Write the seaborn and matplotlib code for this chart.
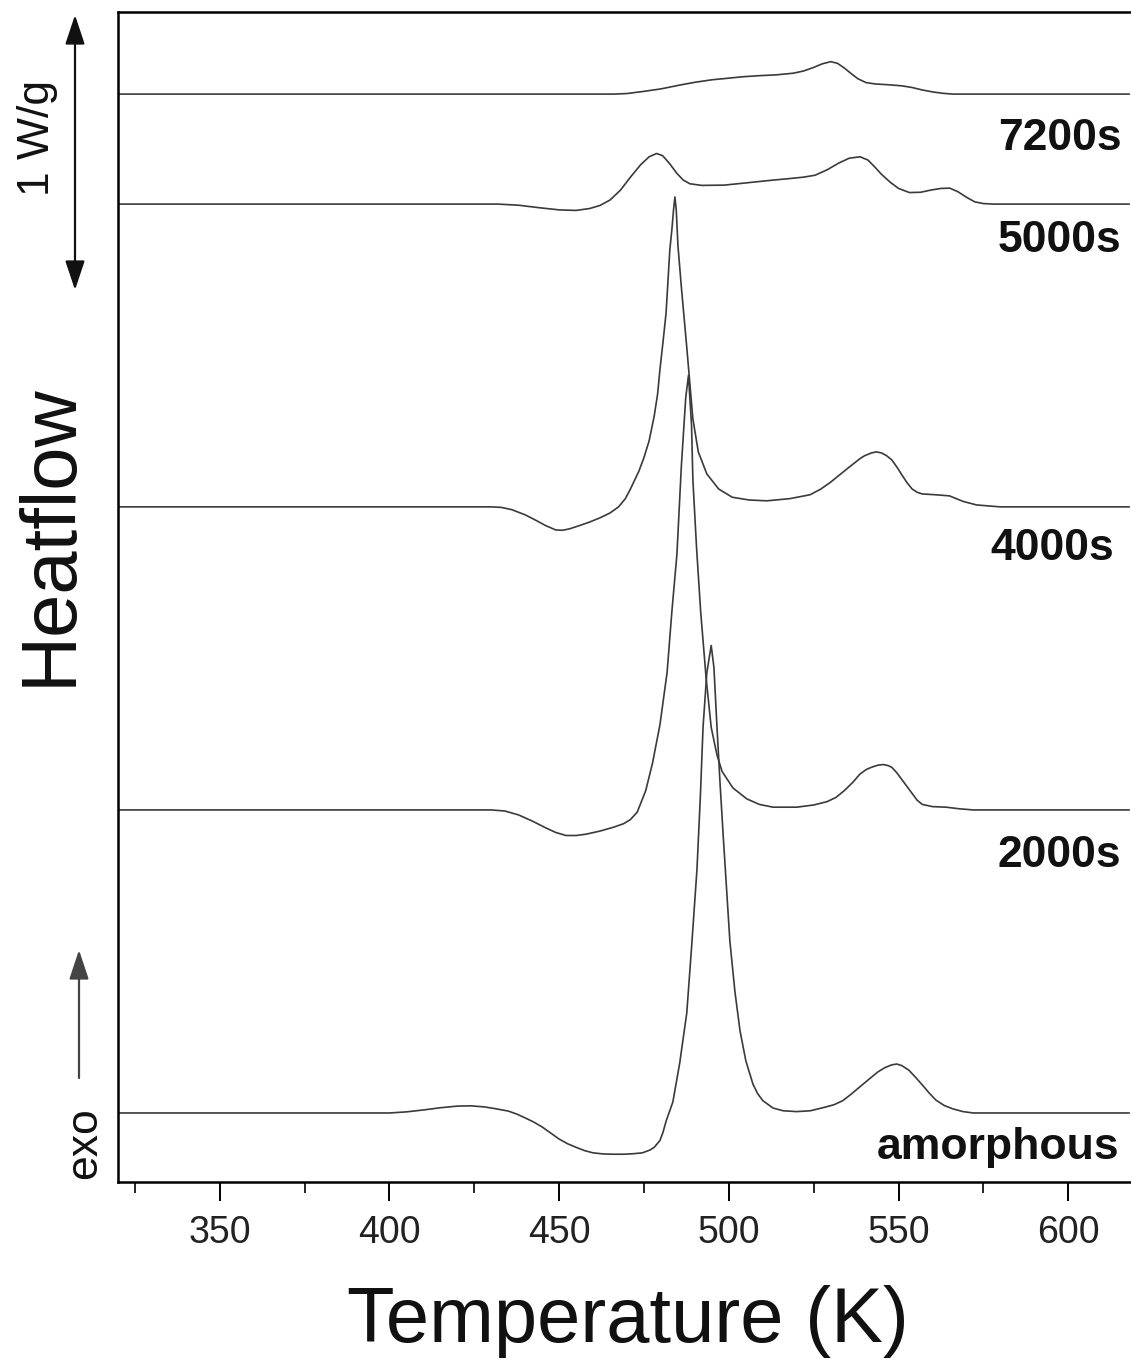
import numpy as np
import pandas as pd
import matplotlib
matplotlib.use("Agg")
import matplotlib.pyplot as plt
import matplotlib.transforms as mtransforms
import seaborn as sns

# ---------------- data ----------------
series_names = ["amorphous", "2000s", "4000s", "5000s", "7200s"]
baseline_offsets = [0.251, 1.353, 2.455, 3.556, 3.956]   # W/g, vertical stacking

amorphous_T = [320, 400, 405, 410, 415, 420, 424, 428, 431, 435, 437.5, 440, 442.5, 445, 447.5,
               450, 452.5, 455, 457.5, 460, 463, 466, 469, 472, 474.5, 476.7, 478, 479.7, 480.6,
               481.5, 483.5, 485.5, 487.6, 489, 490.6, 491.6, 492.4, 493.5, 494.8, 495.6, 496.5,
               497.4, 498.3, 499.3, 500.3, 501.8, 503.3, 505, 507.1, 508.5, 510, 513, 516, 520,
               524, 528, 531, 533.6, 536, 538.6, 542, 544, 546, 548, 549.5, 551, 553, 555, 557,
               559, 561, 563.5, 566, 569, 572, 618]
amorphous_hf = [0, 0, 0.004, 0.011, 0.019, 0.025, 0.026, 0.022, 0.016, 0.007, -0.004, -0.018,
                -0.033, -0.051, -0.073, -0.095, -0.112, -0.125, -0.137, -0.145, -0.149, -0.15,
                -0.15, -0.148, -0.145, -0.135, -0.125, -0.1, -0.07, -0.03, 0.04, 0.18, 0.364,
                0.6, 0.885, 1.15, 1.404, 1.6, 1.70, 1.62, 1.404, 1.2, 1.015, 0.82, 0.625, 0.44,
                0.298, 0.19, 0.105, 0.07, 0.045, 0.018, 0.008, 0.005, 0.008, 0.02, 0.03, 0.045,
                0.068, 0.095, 0.13, 0.15, 0.165, 0.175, 0.178, 0.172, 0.156, 0.13, 0.102, 0.073,
                0.047, 0.027, 0.015, 0.005, 0, 0]

s2000_T = [320, 430, 434, 438, 442, 446, 449, 452, 455, 458, 462, 466, 469, 471, 473, 475.5,
           477.5, 479.7, 481.8, 483.2, 484.7, 486, 487.3, 488.1, 489, 489.4, 490.5, 491.7, 493.3,
           494.8, 496.5, 498, 501.2, 505.3, 509, 513, 520, 525, 528.9, 531.5, 534, 536.5, 538.6,
           540.5, 542, 544, 545.5, 547, 548, 549.5, 551, 552.5, 554, 555.5, 557, 560, 564, 568,
           572, 618]
s2000_hf = [0, 0, -0.004, -0.018, -0.04, -0.065, -0.082, -0.093, -0.093, -0.088, -0.077, -0.063,
            -0.05, -0.035, -0.008, 0.07, 0.17, 0.31, 0.5, 0.72, 0.93, 1.25, 1.5, 1.58, 1.4, 1.2,
            0.95, 0.72, 0.48, 0.3, 0.2, 0.14, 0.08, 0.04, 0.02, 0.01, 0.01, 0.018, 0.03, 0.045,
            0.07, 0.1, 0.13, 0.147, 0.155, 0.163, 0.165, 0.161, 0.155, 0.135, 0.11, 0.085, 0.06,
            0.035, 0.02, 0.012, 0.01, 0.004, 0, 0]

s4000_T = [320, 430, 433, 436, 440, 443, 446, 449, 451, 453, 456, 459, 462, 465, 467.5, 469.5,
           471, 473.5, 475, 476.5, 478, 479, 479.7, 480.6, 481.5, 482.6, 483.2, 483.7, 484.1,
           484.5, 485, 486, 487.6, 489.4, 491, 493.5, 497, 501, 506, 511.2, 518, 523.9, 527, 530,
           535, 538.6, 540, 542, 543.5, 545, 546.5, 548, 549.5, 551, 552.5, 554, 555.5, 557, 561,
           565, 569, 573, 580, 618]
s4000_hf = [0, 0, -0.002, -0.01, -0.029, -0.048, -0.068, -0.084, -0.085, -0.08, -0.068, -0.055,
            -0.04, -0.022, 0, 0.03, 0.065, 0.13, 0.18, 0.24, 0.33, 0.41, 0.5, 0.6, 0.705, 0.934,
            1.007, 1.08, 1.127, 1.08, 0.95, 0.8, 0.58, 0.32, 0.2, 0.12, 0.065, 0.035, 0.025,
            0.022, 0.03, 0.044, 0.064, 0.09, 0.14, 0.175, 0.186, 0.196, 0.2, 0.196, 0.186, 0.171,
            0.145, 0.116, 0.088, 0.065, 0.053, 0.047, 0.044, 0.04, 0.02, 0.007, 0, 0]

s5000_T = [320, 432, 438, 444, 450, 455, 459, 462, 465, 468, 471, 474, 476.5, 478.7, 480.5,
           482.5, 484.6, 486.5, 488.5, 492, 498.6, 505, 512, 518, 522, 525.4, 529, 532.5, 535.5,
           538.7, 541, 543, 545, 547.5, 550, 553.2, 556.5, 559.5, 562.5, 565.1, 567.5, 570,
           572.5, 575, 578, 618]
s5000_hf = [0, 0, -0.004, -0.013, -0.021, -0.023, -0.016, -0.005, 0.015, 0.05, 0.098, 0.143,
            0.172, 0.184, 0.176, 0.148, 0.113, 0.088, 0.074, 0.068, 0.069, 0.077, 0.086, 0.093,
            0.098, 0.105, 0.125, 0.15, 0.167, 0.172, 0.16, 0.135, 0.108, 0.08, 0.057, 0.042,
            0.043, 0.051, 0.057, 0.058, 0.045, 0.025, 0.008, 0.002, 0, 0]

s7200_T = [320, 466, 470, 475, 480, 485.6, 490, 495, 500, 504, 509, 514, 519, 522, 525, 527.5,
           530, 532, 534, 536, 538, 540.4, 543, 547, 551, 554, 557, 560, 563, 566, 618]
s7200_hf = [0, 0, 0.002, 0.01, 0.019, 0.033, 0.043, 0.052, 0.058, 0.063, 0.067, 0.07, 0.076,
            0.084, 0.097, 0.11, 0.118, 0.112, 0.095, 0.075, 0.056, 0.042, 0.037, 0.034, 0.03,
            0.024, 0.015, 0.008, 0.003, 0, 0]

x_ticks = [350, 400, 450, 500, 550, 600]
x_minor_ticks = [325, 375, 425, 475, 525, 575]

# ---------------- build long table ----------------
temps = [amorphous_T, s2000_T, s4000_T, s5000_T, s7200_T]
flows = [amorphous_hf, s2000_hf, s4000_hf, s5000_hf, s7200_hf]
frames = []
for name, T, hf, off in zip(series_names, temps, flows, baseline_offsets):
    frames.append(pd.DataFrame({"T": T, "y": np.asarray(hf) + off, "sample": name}))
df = pd.concat(frames, ignore_index=True)

# ---------------- styling ----------------
sns.set_style("ticks")
plt.rcParams["font.family"] = ["Liberation Sans", "DejaVu Sans"]

W, H = 1131, 1372
fig = plt.figure(figsize=(W / 100, H / 100), dpi=100)
ax_left, ax_right, ax_top, ax_bottom = 118, 1131, 12, 1182
ax = fig.add_axes([ax_left / W, 1 - ax_bottom / H, (ax_right - ax_left) / W, (ax_bottom - ax_top) / H])

sns.lineplot(data=df, x="T", y="y", units="sample", estimator=None, sort=False,
             color="#3a3a3a", linewidth=1.2, ax=ax)
for ln in ax.get_lines():
    ln.set_solid_joinstyle("round")

ax.set_xlim(320, 618.5)
ax.set_ylim(0, (ax_bottom - ax_top) / 275.0)

ax.spines["right"].set_visible(False)
for s in ["left", "bottom", "top"]:
    ax.spines[s].set_linewidth(1.8)
    ax.spines[s].set_color("black")

ax.set_xticks(x_ticks)
ax.set_xticks(x_minor_ticks, minor=True)
ax.set_yticks([])
ax.tick_params(axis="x", which="major", direction="out", length=14, width=1.4,
               labelsize=27, pad=10, colors="black", top=False)
ax.tick_params(axis="x", which="minor", direction="out", length=8, width=1.4, top=False)
ax.tick_params(axis="y", left=False, right=False)
for lbl in ax.get_xticklabels():
    lbl.set_color("#222222")

ax.set_xlabel("Temperature (K)", fontsize=56, color="#111111")
ax.xaxis.label.set_va("center")
ax.xaxis.set_label_coords(0.503, -(1322 - ax_bottom) / (ax_bottom - ax_top))
ax.set_ylabel("Heatflow", fontsize=56, color="#111111")
ax.yaxis.label.set_va("center")
ax.yaxis.set_label_coords((50 - ax_left) / (ax_right - ax_left), (ax_bottom - 535) / (ax_bottom - ax_top))

# curve labels
label_y = [0.124, 1.189, 2.305, 3.425, 3.796]
label_x = [615.0, 615.7, 613.6, 615.7, 615.7]
for name, lx, ly in zip(series_names, label_x, label_y):
    ax.text(lx, ly, name, ha="right", va="center", fontsize=32, fontweight="bold", color="#111111")

blend = mtransforms.blended_transform_factory(ax.transAxes, ax.transData)

# 1 W/g scale arrow
xa = (75 - ax_left) / (ax_right - ax_left)
ax.annotate("", xy=(xa, (ax_bottom - 15) / 275.0), xytext=(xa, (ax_bottom - 290) / 275.0),
            xycoords=("axes fraction", "data"), textcoords=("axes fraction", "data"),
            arrowprops=dict(arrowstyle="<|-|>,head_length=0.6,head_width=0.2", mutation_scale=30,
                            color="#111111", lw=1.6, shrinkA=0, shrinkB=0),
            annotation_clip=False)
ax.text((38 - ax_left) / (ax_right - ax_left), (ax_bottom - 138) / 275.0, "1 W/g",
        transform=blend, rotation=90, ha="center", va="center", fontsize=32,
        color="#111111", clip_on=False)

# exo arrow
xe = (79 - ax_left) / (ax_right - ax_left)
ax.annotate("", xy=(xe, (ax_bottom - 950) / 275.0), xytext=(xe, (ax_bottom - 1078) / 275.0),
            xycoords=("axes fraction", "data"), textcoords=("axes fraction", "data"),
            arrowprops=dict(arrowstyle="-|>,head_length=0.6,head_width=0.2", mutation_scale=30,
                            color="#444444", lw=1.6, shrinkA=0, shrinkB=0),
            annotation_clip=False)
ax.text((85 - ax_left) / (ax_right - ax_left), (ax_bottom - 1143) / 275.0, "exo",
        transform=blend, rotation=90, ha="center", va="center", fontsize=32,
        color="#111111", clip_on=False)

fig.savefig("out.png", dpi=100, facecolor="white")
